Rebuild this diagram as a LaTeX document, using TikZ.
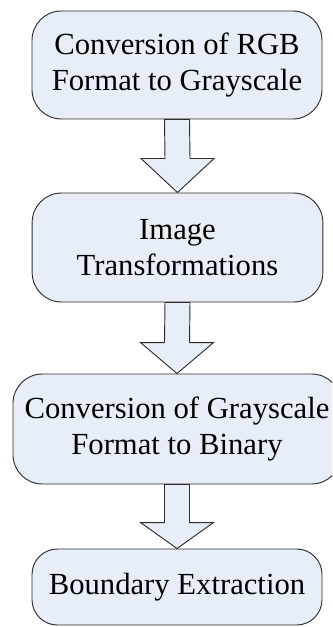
\documentclass[tikz,border=0pt]{standalone}
\usepackage{fontspec}
\setmainfont{Liberation Serif}
\usetikzlibrary{calc}
\definecolor{boxfill}{RGB}{232,238,248}
\definecolor{edge}{RGB}{45,45,45}
\tikzset{
  stage/.style={draw=edge, fill=boxfill, line width=0.7pt, rounded corners=22pt,
    align=center, inner sep=0pt, font=\fontsize{23}{27}\selectfont},
  barrow/.style={draw=edge, fill=boxfill, line width=0.7pt, line join=miter}
}
\begin{document}
\begin{tikzpicture}[x=0.75pt,y=-0.75pt]
\useasboundingbox (0,0) rectangle (332,627);
\clip (0,0) rectangle (332,627);
\node[stage, minimum width=217.5pt, minimum height=81pt] (b1) at (177,65)
  {Conversion of RGB\\Format to Grayscale};
\node[stage, minimum width=218pt, minimum height=81.75pt] (b2) at (177.5,247.5)
  {Image\\Transformations};
\node[stage, minimum width=246pt, minimum height=82.5pt] (b3) at (177,429)
  {Conversion of Grayscale\\Format to Binary};
\node[stage, minimum width=217.5pt, minimum height=57pt, rounded corners=19pt] (b4) at (177,587)
  {Boundary Extraction};
\foreach \s/\t/\h in {b1/b2/34, b2/b3/31, b3/b4/26}{
  \draw[barrow] ($(\s.south)+(-12.5,0)$) -- ($(\t.north)+(-12.5,-\h)$)
    -- ($(\t.north)+(-36.5,-\h)$) -- (\t.north) -- ($(\t.north)+(36.5,-\h)$)
    -- ($(\t.north)+(12.5,-\h)$) -- ($(\s.south)+(12.5,0)$) -- cycle;
}
\end{tikzpicture}
\end{document}
